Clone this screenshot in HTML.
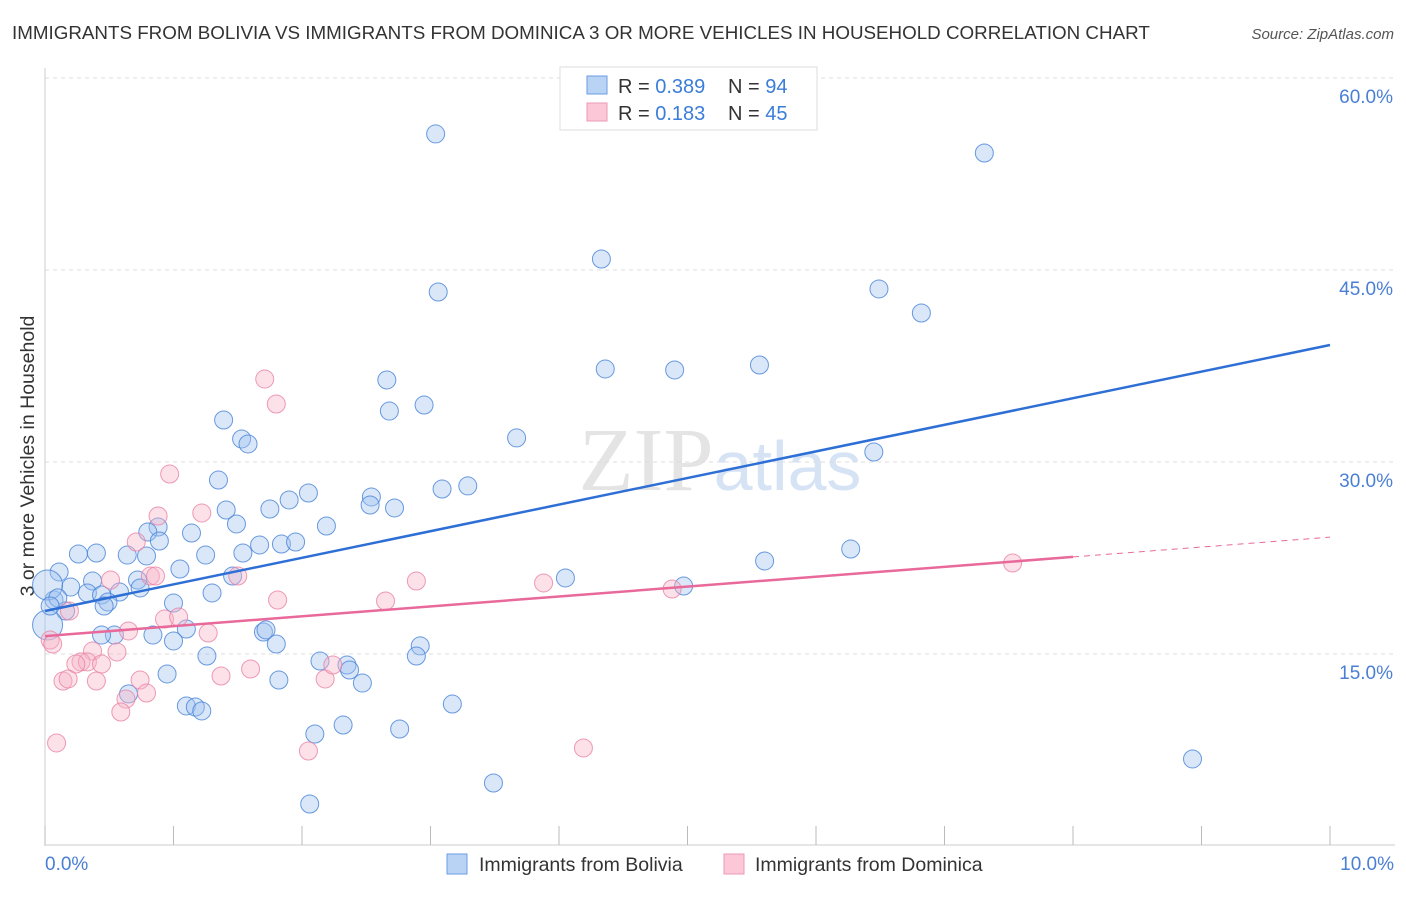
<!DOCTYPE html>
<html><head><meta charset="utf-8"><style>
body{margin:0;background:#fff;font-family:"Liberation Sans",sans-serif;}
</style></head><body>
<svg width="1406" height="892" xmlns="http://www.w3.org/2000/svg">
<text x="12" y="39" font-size="18.8" fill="#333">IMMIGRANTS FROM BOLIVIA VS IMMIGRANTS FROM DOMINICA 3 OR MORE VEHICLES IN HOUSEHOLD CORRELATION CHART</text>
<text x="1394" y="39" font-size="15" fill="#555" font-style="italic" text-anchor="end">Source: ZipAtlas.com</text>
<text x="720" y="490" font-size="90" fill="#e4e4e4" text-anchor="middle" font-family="Liberation Serif,serif">ZIP<tspan fill="#d6e3f5" font-family="Liberation Sans,sans-serif" font-size="70">atlas</tspan></text>
<g id="grid"></g>
<line x1="45" y1="68" x2="45" y2="846" stroke="#ccc"/>
<line x1="45" y1="845" x2="1395" y2="845" stroke="#ccc"/>
<g id="xticks"></g>
<text x="45" y="870" font-size="19" fill="#4a7fd4">0.0%</text>
<text x="1394" y="870" font-size="19" fill="#4a7fd4" text-anchor="end">10.0%</text>
<text transform="translate(34,456) rotate(-90)" font-size="19.5" fill="#333" text-anchor="middle">3 or more Vehicles in Household</text>
<g id="pts"></g>
<g id="lines"></g>
<g>
<rect x="560" y="67" width="257" height="63" fill="#fff" stroke="#ddd"/>
<rect x="587" y="76" width="20" height="18" fill="#b9d3f5" stroke="#6b9be0"/>
<rect x="587" y="103" width="20" height="18" fill="#fcc8d7" stroke="#ec9ab5"/>
<text x="618" y="93" font-size="20" fill="#333">R = <tspan fill="#3b7dd8">0.389</tspan></text>
<text x="728" y="93" font-size="20" fill="#333">N = <tspan fill="#3b7dd8">94</tspan></text>
<text x="618" y="120" font-size="20" fill="#333">R = <tspan fill="#3b7dd8"> 0.183</tspan></text>
<text x="728" y="120" font-size="20" fill="#333">N = <tspan fill="#3b7dd8">45</tspan></text>
</g>
<g>
<rect x="447" y="854" width="20" height="20" fill="#b9d3f5" stroke="#6b9be0"/>
<text x="479" y="871" font-size="19.5" fill="#333">Immigrants from Bolivia</text>
<rect x="724" y="854" width="20" height="20" fill="#fcc8d7" stroke="#ec9ab5"/>
<text x="755" y="871" font-size="19.5" fill="#333">Immigrants from Dominica</text>
</g>
</svg>
<script>
const yTicks=[15,30,45,60];
const yTickLabels=["15.0%","30.0%","45.0%","60.0%"];
const xTicks=[0,1,2,3,4,5,6,7,8,9,10];
const boliviaX=[3.04,7.31,4.33,3.06,6.49,6.82,4.36,4.90,5.56,2.66,2.68,2.95,1.39,1.53,1.58,3.67,6.45,1.35,3.09,3.29,2.05,1.90,2.54,2.53,2.72,1.75,1.41,1.49,2.19,0.88,0.80,0.89,1.14,1.67,1.84,1.95,0.26,0.40,0.64,0.79,1.25,1.54,6.27,5.60,1.05,1.46,4.05,4.97,0.11,0.37,0.72,0.20,0.58,0.74,1.30,0.07,0.33,0.44,0.49,0.46,0.16,1.00,1.10,0.84,0.54,0.44,1.00,1.70,1.72,1.80,2.92,2.89,1.26,2.14,2.35,2.37,0.95,1.82,2.47,0.65,1.10,1.17,1.22,3.17,2.10,2.32,2.76,8.93,3.49,2.06,0.02,0.10,0.02,0.04];
const boliviaY=[55.63,54.14,45.86,43.28,43.52,41.64,37.27,37.19,37.58,36.41,33.98,34.45,33.28,31.80,31.41,31.88,30.78,28.59,27.89,28.13,27.58,27.03,27.27,26.64,26.41,26.33,26.25,25.16,25.00,24.92,24.53,23.83,24.45,23.52,23.59,23.75,22.81,22.89,22.73,22.66,22.73,22.89,23.20,22.27,21.64,21.09,20.94,20.31,21.41,20.70,20.78,20.23,19.84,20.16,19.77,19.22,19.77,19.61,19.06,18.75,18.36,18.98,16.95,16.48,16.48,16.48,16.02,16.72,16.88,15.78,15.63,14.84,14.84,14.45,14.14,13.75,13.44,12.97,12.73,11.88,10.94,10.86,10.55,11.09,8.75,9.45,9.14,6.80,4.92,3.28,20.39,19.38,17.27,18.75];
const boliviaSize=boliviaX.map((v,i)=> (i===90||i===92)?15:9);
const dominicaX=[1.71,1.80,0.97,0.88,1.22,0.71,0.82,0.86,1.50,0.51,2.89,3.88,4.88,7.53,1.81,2.65,0.93,1.04,1.27,0.65,0.19,0.56,0.37,0.28,0.33,0.44,0.24,1.37,1.60,0.74,0.14,0.18,0.40,0.79,0.63,2.18,2.24,0.59,4.19,2.05,0.09,0.04,0.06];
const dominicaY=[36.48,34.53,29.06,25.78,26.02,23.75,21.09,21.09,21.09,20.78,20.70,20.55,20.08,22.11,19.22,19.14,17.73,17.89,16.64,16.80,18.36,15.16,15.23,14.38,14.38,14.22,14.22,13.28,13.83,12.97,12.89,13.05,12.89,11.95,11.48,13.05,14.14,10.47,7.66,7.42,8.05,16.09,15.78];
const boliviaTrend=[18.36,39.14];
const dominicaTrend=[16.4,24.13];
const dominicaSolidEnd=8;
const NS="http://www.w3.org/2000/svg";
const X=v=>45+v*128.5, Y=v=>846-v*12.8;
function mk(t,a,p){const e=document.createElementNS(NS,t);for(const k in a)e.setAttribute(k,a[k]);p.appendChild(e);return e;}
const grid=document.getElementById('grid');
yTicks.forEach((t,i)=>{
 const l=mk('line',{x1:45,x2:1395,y1:Y(t),y2:Y(t),stroke:'#ddd','stroke-dasharray':'4,4'},grid);
 
 
 const tx=mk('text',{x:1393,y:Y(t)+25,'font-size':19,fill:'#4a7fd4','text-anchor':'end'},grid);
 tx.textContent=yTickLabels[i];
 
 
});
const xt=document.getElementById('xticks');
xTicks.forEach(t=>{const l=mk('line',{x1:X(t),x2:X(t),y1:826,y2:845,stroke:'#bbb'},xt);
 
 });
const pts=document.getElementById('pts');
boliviaX.forEach((x,i)=>{const c=mk('circle',{cx:X(x),cy:Y(boliviaY[i]),r:boliviaSize[i],fill:'rgba(160,195,240,0.4)',stroke:'rgba(70,130,215,0.8)','stroke-width':1},pts);
 
 });
dominicaX.forEach((x,i)=>{const c=mk('circle',{cx:X(x),cy:Y(dominicaY[i]),r:9,fill:'rgba(247,180,200,0.4)',stroke:'rgba(232,130,165,0.8)','stroke-width':1},pts);
 
 });
const ln=document.getElementById('lines');
const b=mk('line',{x1:X(0),y1:Y(boliviaTrend[0]),x2:X(10),y2:Y(boliviaTrend[1]),stroke:'#2e6fd6','stroke-width':2.5},ln);


const dm=v=>dominicaTrend[0]+(dominicaTrend[1]-dominicaTrend[0])*v/10;
const d=mk('line',{x1:X(0),y1:Y(dm(0)),x2:X(dominicaSolidEnd),y2:Y(dm(dominicaSolidEnd)),stroke:'#e8699a','stroke-width':2.5},ln);


const dd=mk('line',{x1:X(dominicaSolidEnd),y1:Y(dm(dominicaSolidEnd)),x2:X(10),y2:Y(dm(10)),stroke:'#e8699a','stroke-width':1,'stroke-dasharray':'6,5'},ln);


</script>
</body></html>
